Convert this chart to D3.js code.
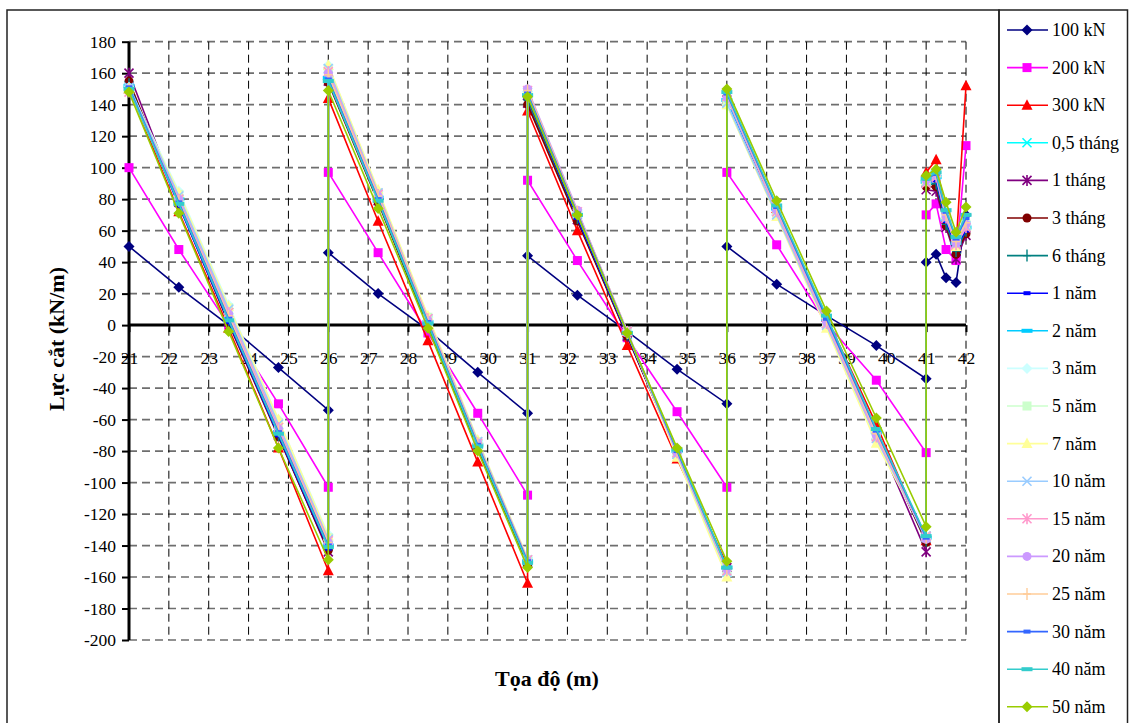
<!DOCTYPE html>
<html>
<head>
<meta charset="utf-8">
<script src="https://cdn.jsdelivr.net/npm/d3@7"></script>
<style>
  body { margin: 0; background: #fff; }
  svg text { font-family: "Liberation Serif", "Times New Roman", serif; }
</style>
</head>
<body>
<svg id="chart" width="1129" height="723"></svg>
<script>
// x positions (m) - each support appears twice because of the jump in shear
var xPos = [21, 22.25, 23.5, 24.75, 26, 26, 27.25, 28.5, 29.75, 31, 31, 32.25, 33.5, 34.75, 36,
            36, 37.25, 38.5, 39.75, 41, 41, 41.25, 41.5, 41.75, 42];

var seriesNames = ["100 kN", "200 kN", "300 kN", "0,5 tháng", "1 tháng", "3 tháng", "6 tháng",
                   "1 năm", "2 năm", "3 năm", "5 năm", "7 năm", "10 năm", "15 năm", "20 năm",
                   "25 năm", "30 năm", "40 năm", "50 năm"];

var seriesColors = ["#000080", "#FF00FF", "#FF0000", "#00FFFF", "#800080", "#800000", "#008080",
                    "#0000FF", "#00CCFF", "#CCFFFF", "#CCFFCC", "#FFFF99", "#99CCFF", "#FF99CC",
                    "#CC99FF", "#FFCC99", "#3366FF", "#33CCCC", "#99CC00"];

var seriesMarkers = ["diamond", "square", "triangle", "x", "star", "circle", "plus",
                     "dash", "wdash", "diamond", "square", "triangle", "x", "star", "circle",
                     "plus", "dash", "wdash", "diamond"];

// shear force values (kN/m), one array per series
var v100kN  = [50, 24, 0, -27, -54, 46, 20, -3, -30, -56, 44, 19, -4, -28, -50, 50, 26, 6, -13, -34, 40, 45, 30, 27, 70];
var v200kN  = [100, 48, 0, -50, -103, 97, 46, -5, -56, -108, 92, 41, -8, -55, -103, 97, 51, 1, -35, -81, 70, 77, 48, 41, 114];
var v300kN  = [150, 72, -2, -78, -156, 144, 66, -10, -87, -164, 136, 60, -13, -85, -152, 142, 74, 5, -63, -137, 97, 105, 68, 50, 152];
var v05t    = [152, 80, 8, -68, -140, 160, 82, 3, -76, -150, 146, 70, -6, -82, -157, 141, 72, 1, -70, -134, 90, 95, 70, 48, 62];
var v1t     = [160, 78, 2, -70, -144, 155, 79, 0, -78, -151, 141, 67, -7, -81, -154, 143, 73, 2, -70, -144, 86, 85, 62, 42, 57];
var v3t     = [155, 77, 1, -71, -143, 154, 78, -1, -78, -152, 140, 66, -7, -81, -155, 142, 73, 3, -69, -138, 88, 88, 63, 45, 58];
var v6t     = [153, 78, 3, -70, -141, 155, 79, 0, -77, -151, 143, 68, -6, -80, -155, 143, 74, 4, -68, -137, 89, 90, 64, 47, 60];
var v1n     = [152, 76, 2, -70, -142, 156, 80, 2, -77, -150, 145, 68, -6, -80, -154, 142, 74, 5, -67, -136, 90, 92, 66, 50, 60];
var v2n     = [152, 80, 4, -68, -140, 157, 81, 2, -76, -150, 146, 70, -5, -80, -154, 143, 74, 4, -68, -135, 91, 94, 67, 52, 62];
var v3n     = [151, 85, 13, -60, -133, 165, 85, 5, -74, -148, 148, 72, -4, -83, -158, 140, 70, -1, -73, -135, 92, 96, 70, 54, 64];
var v5n     = [150, 83, 11, -62, -135, 163, 84, 5, -74, -149, 148, 72, -4, -82, -157, 140, 70, -1, -72, -135, 92, 96, 70, 54, 64];
var v7n     = [150, 84, 12, -60, -134, 165, 86, 6, -73, -148, 149, 72, -4, -84, -160, 140, 69, -2, -75, -134, 91, 97, 70, 50, 63];
var v10n    = [151, 82, 10, -63, -136, 163, 84, 4, -74, -149, 148, 71, -4, -82, -157, 141, 70, 0, -72, -135, 91, 95, 69, 52, 63];
var v15n    = [148, 80, 8, -65, -137, 161, 83, 4, -75, -149, 149, 72, -4, -81, -156, 145, 72, 1, -71, -134, 90, 94, 68, 51, 62];
var v20n    = [150, 80, 7, -66, -138, 160, 82, 3, -75, -150, 150, 73, -5, -81, -155, 145, 73, 2, -70, -136, 92, 95, 69, 52, 64];
var v25n    = [150, 79, 6, -67, -138, 159, 82, 3, -75, -150, 149, 72, -5, -80, -155, 146, 74, 3, -69, -135, 92, 96, 70, 53, 65];
var v30n    = [151, 78, 4, -68, -140, 156, 80, 2, -76, -150, 147, 71, -5, -80, -154, 147, 75, 4, -67, -135, 93, 96, 72, 55, 68];
var v40n    = [150, 77, 3, -69, -141, 155, 79, 1, -77, -151, 146, 70, -5, -79, -154, 148, 76, 6, -66, -134, 93, 97, 73, 56, 70];
var v50n    = [148, 71, -4, -78, -149, 149, 74, -2, -80, -154, 145, 70, -5, -78, -150, 150, 79, 9, -59, -128, 95, 99, 78, 59, 75];

var seriesValues = [v100kN, v200kN, v300kN, v05t, v1t, v3t, v6t, v1n, v2n, v3n, v5n, v7n,
                    v10n, v15n, v20n, v25n, v30n, v40n, v50n];

var xTicks = d3.range(21, 43);
var yTicks = d3.range(-200, 181, 20);

var svg = d3.select("#chart");

// outer frames (chart area + legend box)
svg.append("rect").attr("x", 7).attr("y", 10).attr("width", 992).attr("height", 730)
    .attr("fill", "none").attr("stroke", "#222").attr("stroke-width", 1.5);
svg.append("rect").attr("x", 999).attr("y", 10).attr("width", 128.5).attr("height", 730)
    .attr("fill", "none").attr("stroke", "#222").attr("stroke-width", 1.5);

var x = d3.scaleLinear().domain([21, 42]).range([129, 966]);
var y = d3.scaleLinear().domain([-200, 180]).range([640, 41.7]);

var g = svg.append("g");

// gridlines
g.selectAll(".hgrid").data(yTicks).enter().append("line")
    .attr("x1", x(21)).attr("x2", x(42))
    .attr("y1", function(d) { return y(d); }).attr("y2", function(d) { return y(d); })
    .attr("stroke", "#6e6e6e").attr("stroke-width", 1.7).attr("stroke-dasharray", "8,5");
g.selectAll(".vgrid").data(xTicks.slice(1)).enter().append("line")
    .attr("y1", y(180)).attr("y2", y(-200))
    .attr("x1", function(d) { return x(d); }).attr("x2", function(d) { return x(d); })
    .attr("stroke", "#000").attr("stroke-width", 1).attr("stroke-dasharray", "8,5");

var fmt = function(d) { return String(d); };   // plain hyphen for negatives

// y axis
var yAxis = g.append("g")
    .attr("transform", "translate(" + x(21) + ",0)")
    .call(d3.axisLeft(y).tickValues(yTicks).tickFormat(fmt).tickSize(7).tickPadding(6));
yAxis.select(".domain").attr("stroke-width", 3).attr("d", "M0," + y(180) + "V" + y(-200));
yAxis.selectAll(".tick line").attr("stroke-width", 2);
yAxis.selectAll("text").attr("font-size", 17.5).attr("font-family", "Liberation Serif").attr("fill", "#000");

// x axis at y = 0
var xAxis = g.append("g")
    .attr("transform", "translate(0," + y(0) + ")")
    .call(d3.axisBottom(x).tickValues(xTicks).tickFormat(fmt).tickSize(7).tickPadding(19));
xAxis.select(".domain").attr("stroke-width", 3).attr("d", "M" + x(21) + ",0H" + x(42));
xAxis.selectAll(".tick line").attr("stroke-width", 2);
xAxis.selectAll("text").attr("font-size", 17.5).attr("font-family", "Liberation Serif").attr("fill", "#000");

// axis titles
svg.append("text")
    .attr("transform", "translate(64,339) rotate(-90)")
    .attr("text-anchor", "middle")
    .attr("font-size", 22).attr("font-weight", "bold")
    .text("Lực cắt (kN/m)");
svg.append("text")
    .attr("x", 547).attr("y", 686)
    .attr("text-anchor", "middle")
    .attr("font-size", 22).attr("font-weight", "bold")
    .text("Tọa độ (m)");

function drawMarker(sel, type, color, cx, cy) {
    var m = sel.append("g").attr("transform", "translate(" + cx + "," + cy + ")");
    if (type == "diamond") {
        m.append("path").attr("d", "M0,-5.5L5.5,0L0,5.5L-5.5,0Z").attr("fill", color);
    } else if (type == "square") {
        m.append("rect").attr("x", -4.5).attr("y", -4.5).attr("width", 9).attr("height", 9).attr("fill", color);
    } else if (type == "triangle") {
        m.append("path").attr("d", "M0,-6L5.5,4.5L-5.5,4.5Z").attr("fill", color);
    } else if (type == "circle") {
        m.append("circle").attr("r", 4.5).attr("fill", color);
    } else if (type == "x") {
        m.append("path").attr("d", "M-4.5,-4.5L4.5,4.5M-4.5,4.5L4.5,-4.5")
            .attr("stroke", color).attr("stroke-width", 1.6);
    } else if (type == "star") {
        m.append("path").attr("d", "M-4.5,-4.5L4.5,4.5M-4.5,4.5L4.5,-4.5M0,-5.5L0,5.5")
            .attr("stroke", color).attr("stroke-width", 1.6);
    } else if (type == "plus") {
        m.append("path").attr("d", "M0,-6L0,6M-4,0L4,0")
            .attr("stroke", color).attr("stroke-width", 1.4);
    } else if (type == "dash") {
        m.append("rect").attr("x", -3.5).attr("y", -2).attr("width", 7).attr("height", 4).attr("fill", color);
    } else if (type == "wdash") {
        m.append("rect").attr("x", -5.5).attr("y", -2).attr("width", 11).attr("height", 4).attr("fill", color);
    }
}

var line = d3.line()
    .x(function(d) { return x(d[0]); })
    .y(function(d) { return y(d[1]); });

var plot = svg.append("g");
seriesValues.forEach(function(vals, i) {
    var pts = d3.zip(xPos, vals);
    var sg = plot.append("g");
    sg.append("path")
        .attr("d", line(pts))
        .attr("fill", "none")
        .attr("stroke", seriesColors[i])
        .attr("stroke-width", 1.6);
    pts.forEach(function(p) {
        drawMarker(sg, seriesMarkers[i], seriesColors[i], x(p[0]), y(p[1]));
    });
});

// legend
var legend = svg.append("g");
seriesNames.forEach(function(name, i) {
    var ly = 30 + i * 37.6;
    var lg = legend.append("g");
    lg.append("line").attr("x1", 1007).attr("x2", 1048).attr("y1", ly).attr("y2", ly)
        .attr("stroke", seriesColors[i]).attr("stroke-width", 1.6);
    drawMarker(lg, seriesMarkers[i], seriesColors[i], 1027, ly);
    lg.append("text").attr("x", 1052).attr("y", ly + 6)
        .attr("font-size", 18).attr("fill", "#000").text(name);
});
</script>
</body>
</html>
